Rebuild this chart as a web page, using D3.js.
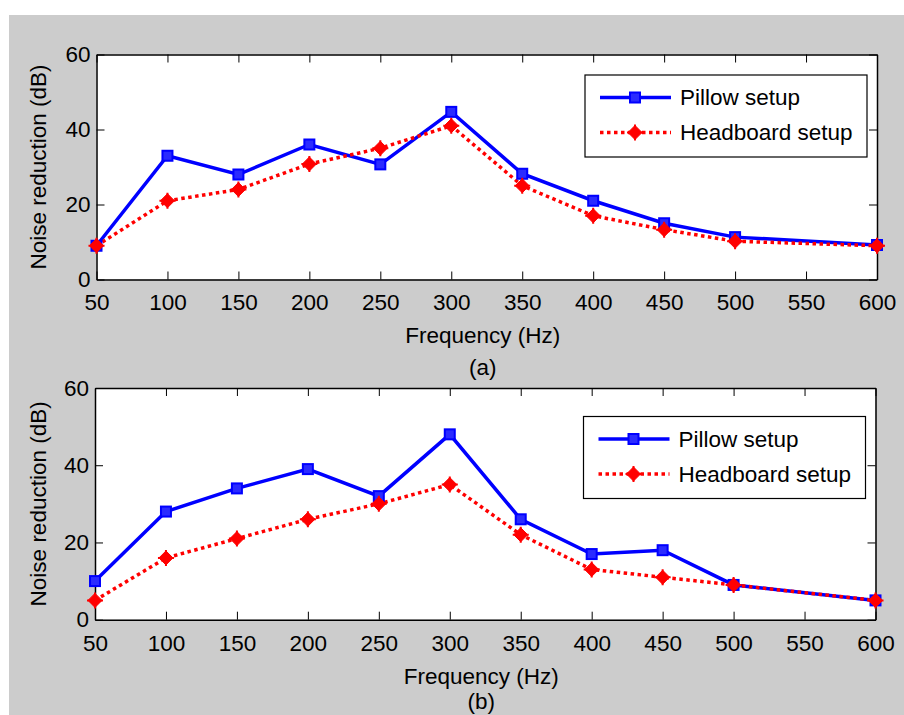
<!DOCTYPE html>
<html>
<head>
<meta charset="utf-8">
<script src="https://cdn.jsdelivr.net/npm/d3@7/dist/d3.min.js"></script>
<style>
  html, body { margin: 0; padding: 0; background: #ffffff; }
  svg text { font-family: "Liberation Sans", Arial, sans-serif; fill: #000; }
</style>
</head>
<body>
<svg id="chart" width="904" height="715"></svg>
<script>
// ---- data ----
const frequencies = [50, 100, 150, 200, 250, 300, 350, 400, 450, 500, 600];
const xTicks = [50, 100, 150, 200, 250, 300, 350, 400, 450, 500, 550, 600];
const yTicks = [0, 20, 40, 60];
const seriesNames = ["Pillow setup", "Headboard setup"];
const pillowA    = [9, 33, 28, 36, 30.7, 44.7, 28.2, 21, 15, 11.3, 9.2];
const headboardA = [9, 21, 24, 30.8, 35, 41, 25, 17, 13.3, 10.2, 9];
const pillowB    = [10, 28, 34, 39, 32, 48, 26, 17, 18, 9, 5];
const headboardB = [5, 16, 21, 26, 30, 35, 22, 13, 11, 9, 5];
const xLabel = "Frequency (Hz)";
const yLabel = "Noise reduction (dB)";
const panelLabels = ["(a)", "(b)"];

const svg = d3.select("#chart");
svg.append("rect").attr("x", 9).attr("y", 15).attr("width", 895).attr("height", 700).attr("fill", "#cccccc");

const panels = [
  { left: 96.5, right: 877, top: 54.5, bottom: 279.5, pillow: pillowA, head: headboardA, label: panelLabels[0],
    labelY: 367, legend: { x: 585, y: 75, w: 282, h: 82 } },
  { left: 95, right: 875.5, top: 388, bottom: 619.7, pillow: pillowB, head: headboardB, label: panelLabels[1],
    labelY: 701, legend: { x: 583.5, y: 416.5, w: 282, h: 82 } }
];

const FS = 22.5;

function drawMarkerSquare(g, x, y) {
  g.append("rect").attr("x", x - 5).attr("y", y - 5).attr("width", 10).attr("height", 10)
    .attr("fill", "#2b2bff").attr("stroke", "#0000ff").attr("stroke-width", 2);
}
function drawMarkerDiamond(g, x, y) {
  const r = 7;
  g.append("path").attr("d", `M${x},${y - r}L${x + r},${y}L${x},${y + r}L${x - r},${y}Z`)
    .attr("fill", "#ff0000").attr("stroke", "#ff0000").attr("stroke-width", 1);
  g.append("path").attr("d", `M${x - r - 1},${y}H${x + r + 1}M${x},${y - r - 1}V${y + r + 1}`)
    .attr("stroke", "#ff0000").attr("stroke-width", 2);
}

panels.forEach(p => {
  const x = d3.scaleLinear().domain([50, 600]).range([p.left, p.right]);
  const y = d3.scaleLinear().domain([0, 60]).range([p.bottom, p.top]);
  const g = svg.append("g");

  g.append("rect").attr("x", p.left).attr("y", p.top).attr("width", p.right - p.left)
    .attr("height", p.bottom - p.top).attr("fill", "#ffffff");

  // axes with inward ticks
  const tl = 8;
  const axB = g.append("g").attr("transform", `translate(0,${p.bottom})`)
    .call(d3.axisBottom(x).tickValues(xTicks).tickSizeInner(-tl).tickSizeOuter(0).tickPadding(14).tickFormat(d3.format("d")));
  const axT = g.append("g").attr("transform", `translate(0,${p.top})`)
    .call(d3.axisTop(x).tickValues(xTicks).tickSizeInner(-tl).tickSizeOuter(0).tickFormat(""));
  const axL = g.append("g").attr("transform", `translate(${p.left},0)`)
    .call(d3.axisLeft(y).tickValues(yTicks).tickSizeInner(-tl).tickSizeOuter(0).tickPadding(6).tickFormat(d3.format("d")));
  const axR = g.append("g").attr("transform", `translate(${p.right},0)`)
    .call(d3.axisRight(y).tickValues(yTicks).tickSizeInner(-tl).tickSizeOuter(0).tickFormat(""));
  [axB, axT, axL, axR].forEach(a => {
    a.selectAll("path").attr("stroke", "#000").attr("stroke-width", 1.5);
    a.selectAll("line").attr("stroke", "#000").attr("stroke-width", 1);
    a.selectAll("text").attr("font-size", FS).attr("font-family", "Liberation Sans, Arial, sans-serif").attr("fill", "#000");
  });
  axB.selectAll("text").attr("dy", "0.35em").attr("y", 23);

  const line = d3.line().x((d, i) => x(frequencies[i])).y(d => y(d));
  g.append("path").datum(p.pillow).attr("d", line).attr("fill", "none")
    .attr("stroke", "#0000ff").attr("stroke-width", 3.5).attr("stroke-linejoin", "miter");
  g.append("path").datum(p.head).attr("d", line).attr("fill", "none")
    .attr("stroke", "#ff0000").attr("stroke-width", 3.5).attr("stroke-dasharray", "3.5,3.5");

  p.pillow.forEach((v, i) => drawMarkerSquare(g, x(frequencies[i]), y(v)));
  p.head.forEach((v, i) => drawMarkerDiamond(g, x(frequencies[i]), y(v)));

  // legend
  const L = p.legend;
  const lg = g.append("g");
  lg.append("rect").attr("x", L.x).attr("y", L.y).attr("width", L.w).attr("height", L.h)
    .attr("fill", "#ffffff").attr("stroke", "#000").attr("stroke-width", 1.2);
  const rows = [L.y + 22.5, L.y + 57.5];
  lg.append("line").attr("x1", L.x + 15).attr("x2", L.x + 86).attr("y1", rows[0]).attr("y2", rows[0])
    .attr("stroke", "#0000ff").attr("stroke-width", 3.5);
  drawMarkerSquare(lg, L.x + 50, rows[0]);
  lg.append("line").attr("x1", L.x + 15).attr("x2", L.x + 86).attr("y1", rows[1]).attr("y2", rows[1])
    .attr("stroke", "#ff0000").attr("stroke-width", 3.5).attr("stroke-dasharray", "3.5,3.5");
  drawMarkerDiamond(lg, L.x + 50, rows[1]);
  seriesNames.forEach((n, i) => {
    lg.append("text").attr("x", L.x + 95).attr("y", rows[i]).attr("dy", "0.35em")
      .attr("font-size", FS).text(n);
  });

  // labels
  const cx = (p.left + p.right) / 2 - 4;
  g.append("text").attr("x", cx).attr("y", p.bottom + 56).attr("dy", "0.35em")
    .attr("text-anchor", "middle").attr("font-size", FS).text(xLabel);
  g.append("text").attr("x", cx).attr("y", p.labelY).attr("dy", "0.35em")
    .attr("text-anchor", "middle").attr("font-size", FS).text(p.label);
  g.append("text").attr("transform", `translate(38,${(p.top + p.bottom) / 2}) rotate(-90)`)
    .attr("dy", "0.35em").attr("text-anchor", "middle").attr("font-size", FS).text(yLabel);
});
</script>
</body>
</html>
